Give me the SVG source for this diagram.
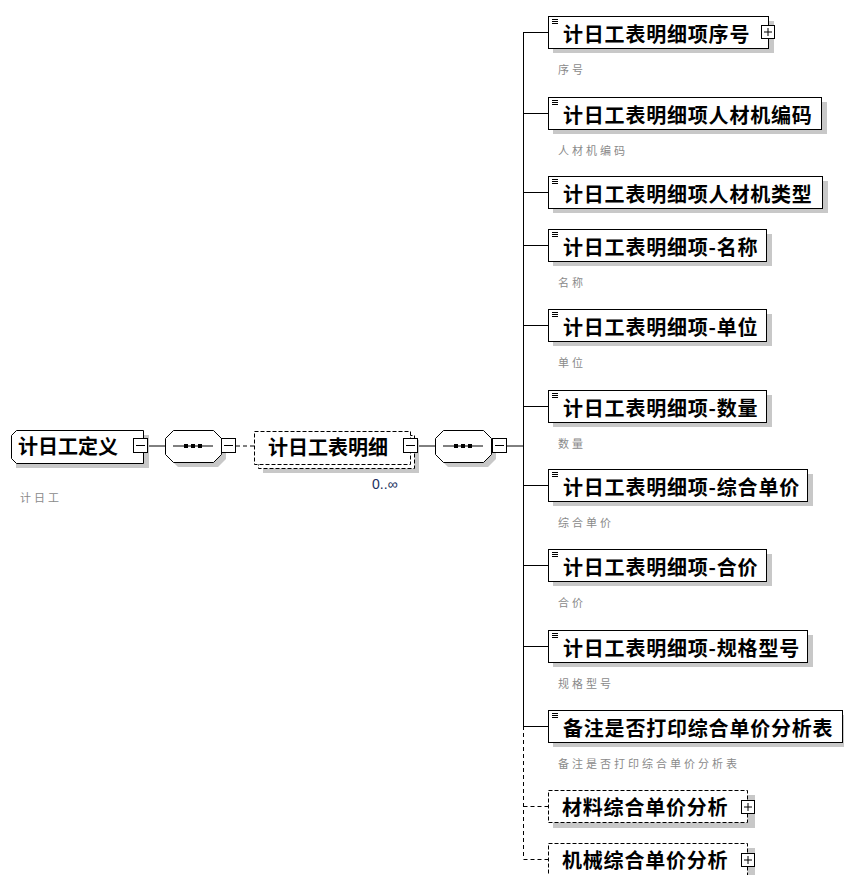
<svg xmlns="http://www.w3.org/2000/svg" width="845" height="875" viewBox="0 0 845 875">
<style>
  .bg{fill:#ffffff}
  .shadow{fill:#c8c8c8;stroke:none}
  .box{fill:#ffffff;stroke:#000000;stroke-width:1}
  .dbox{fill:#ffffff;stroke:#000000;stroke-width:1;stroke-dasharray:4 2}
  .line{fill:none;stroke:#000000;stroke-width:1}
  .dline{fill:none;stroke:#000000;stroke-width:1;stroke-dasharray:4 3}
  .name{font-family:"Noto Sans CJK SC","Noto Sans CJK JP",sans-serif;font-size:20px;font-weight:bold;fill:#000000}
  .cname{font-family:"Noto Sans CJK SC","Noto Sans CJK JP",sans-serif;font-size:20px;font-weight:bold;fill:#000000;letter-spacing:0.8px}
  .ann{font-family:"Noto Sans CJK SC","Noto Sans CJK JP",sans-serif;font-size:11px;fill:#8a8a8a;letter-spacing:3px}
  .occ{font-family:"Liberation Sans",sans-serif;font-size:14px;fill:#203060}
  .tog{fill:#ffffff;stroke:#000000;stroke-width:1}
  .icon{stroke:#000000;stroke-width:1}
  .dot{fill:#000000}
</style>
<defs>
  <g id="minus"><rect class="tog" x="0.5" y="0.5" width="14" height="14"/><line class="line" x1="3" y1="7.5" x2="12" y2="7.5"/></g>
  <g id="plus"><rect class="tog" x="0.5" y="0.5" width="13" height="13"/><line class="line" x1="3" y1="7" x2="11" y2="7"/><line class="line" x1="7" y1="3" x2="7" y2="11"/></g>
  <g id="elicon"><line class="icon" x1="0" y1="0.5" x2="6" y2="0.5"/><line class="icon" x1="0" y1="2.5" x2="6" y2="2.5"/><line class="icon" x1="0" y1="4.5" x2="6" y2="4.5"/></g>
</defs>
<rect class="bg" x="0" y="0" width="845" height="875"/>

<g id="connectors">
  <line class="line" x1="148" y1="446" x2="165" y2="446"/>
  <line class="dline" x1="236" y1="446" x2="254" y2="446"/>
  <line class="line" x1="418" y1="446" x2="435" y2="446"/>
  <line class="line" x1="507" y1="446" x2="523.5" y2="446"/>
  <line class="line" x1="523.5" y1="32" x2="523.5" y2="726"/>
  <line class="dline" x1="523.5" y1="726" x2="523.5" y2="859"/>
  <line class="line" x1="523.5" y1="32.5" x2="548" y2="32.5"/>
  <line class="line" x1="523.5" y1="113.5" x2="548" y2="113.5"/>
  <line class="line" x1="523.5" y1="192.5" x2="548" y2="192.5"/>
  <line class="line" x1="523.5" y1="245.5" x2="548" y2="245.5"/>
  <line class="line" x1="523.5" y1="325.5" x2="548" y2="325.5"/>
  <line class="line" x1="523.5" y1="406.5" x2="548" y2="406.5"/>
  <line class="line" x1="523.5" y1="485.5" x2="548" y2="485.5"/>
  <line class="line" x1="523.5" y1="565.5" x2="548" y2="565.5"/>
  <line class="line" x1="523.5" y1="646.5" x2="548" y2="646.5"/>
  <line class="line" x1="523.5" y1="726.5" x2="548" y2="726.5"/>
  <line class="dline" x1="523.5" y1="806.5" x2="548" y2="806.5"/>
  <line class="dline" x1="523.5" y1="859.5" x2="548" y2="859.5"/>
</g>

<g id="root">
  <rect class="shadow" x="16" y="435" width="133" height="33"/>
  <polygon class="box" points="16.5,430.5 143.5,430.5 143.5,463.5 16.5,463.5 11.5,458.5 11.5,435.5"/>
  <text class="name" x="18" y="454">计日工定义</text>
  <use href="#minus" x="133" y="438"/>
  <text class="ann" x="20" y="502">计日工</text>
</g>

<g id="seq1">
  <polygon class="shadow" points="178,435 218,435 226,443 226,459 218,467 178,467 170,459 170,443"/>
  <polygon class="box" points="173.5,430.5 213.5,430.5 221.5,438.5 221.5,454.5 213.5,462.5 173.5,462.5 165.5,454.5 165.5,438.5"/>
  <line class="line" x1="173" y1="446" x2="213" y2="446"/>
  <rect class="dot" x="184" y="444" width="4" height="4"/>
  <rect class="dot" x="191" y="444" width="4" height="4"/>
  <rect class="dot" x="198" y="444" width="4" height="4"/>
  <use href="#minus" x="221" y="438"/>
</g>

<g id="detail">
  <rect class="shadow" x="263" y="440" width="156" height="33"/>
  <rect class="dbox" x="258.5" y="435.5" width="156" height="33"/>
  <rect class="dbox" x="254.5" y="431.5" width="156" height="33"/>
  <text class="name" x="268" y="455">计日工表明细</text>
  <use href="#minus" x="403" y="438"/>
  <text class="occ" x="372" y="489">0..∞</text>
</g>

<g id="seq2">
  <polygon class="shadow" points="448,435 488,435 496,443 496,459 488,467 448,467 440,459 440,443"/>
  <polygon class="box" points="443.5,430.5 483.5,430.5 491.5,438.5 491.5,454.5 483.5,462.5 443.5,462.5 435.5,454.5 435.5,438.5"/>
  <line class="line" x1="443" y1="446" x2="483" y2="446"/>
  <rect class="dot" x="454" y="444" width="4" height="4"/>
  <rect class="dot" x="461" y="444" width="4" height="4"/>
  <rect class="dot" x="468" y="444" width="4" height="4"/>
  <use href="#minus" x="492" y="438"/>
</g>

<g id="c1">
  <rect class="shadow" x="553" y="21" width="221" height="32"/>
  <rect class="box" x="548.5" y="16.5" width="220" height="32"/>
  <use href="#elicon" x="552" y="19"/>
  <text class="cname" x="563" y="42">计日工表明细项序号</text>
  <use href="#plus" x="761" y="25"/>
  <text class="ann" x="558" y="74">序号</text>
</g>

<g id="c2">
  <rect class="shadow" x="553" y="102" width="274" height="32"/>
  <rect class="box" x="548.5" y="97.5" width="273" height="32"/>
  <use href="#elicon" x="552" y="100"/>
  <text class="cname" x="563" y="123">计日工表明细项人材机编码</text>
  <text class="ann" x="558" y="155">人材机编码</text>
</g>

<g id="c3">
  <rect class="shadow" x="553" y="181" width="275" height="32"/>
  <rect class="box" x="548.5" y="176.5" width="274" height="32"/>
  <use href="#elicon" x="552" y="179"/>
  <text class="cname" x="563" y="202">计日工表明细项人材机类型</text>
</g>

<g id="c4">
  <rect class="shadow" x="553" y="234" width="219" height="32"/>
  <rect class="box" x="548.5" y="229.5" width="218" height="32"/>
  <use href="#elicon" x="552" y="232"/>
  <text class="cname" x="563" y="255">计日工表明细项-名称</text>
  <text class="ann" x="558" y="287">名称</text>
</g>

<g id="c5">
  <rect class="shadow" x="553" y="314" width="219" height="32"/>
  <rect class="box" x="548.5" y="309.5" width="218" height="32"/>
  <use href="#elicon" x="552" y="312"/>
  <text class="cname" x="563" y="335">计日工表明细项-单位</text>
  <text class="ann" x="558" y="367">单位</text>
</g>

<g id="c6">
  <rect class="shadow" x="553" y="395" width="219" height="32"/>
  <rect class="box" x="548.5" y="390.5" width="218" height="32"/>
  <use href="#elicon" x="552" y="393"/>
  <text class="cname" x="563" y="416">计日工表明细项-数量</text>
  <text class="ann" x="558" y="448">数量</text>
</g>

<g id="c7">
  <rect class="shadow" x="553" y="474" width="260" height="32"/>
  <rect class="box" x="548.5" y="469.5" width="259" height="32"/>
  <use href="#elicon" x="552" y="472"/>
  <text class="cname" x="563" y="495">计日工表明细项-综合单价</text>
  <text class="ann" x="558" y="527">综合单价</text>
</g>

<g id="c8">
  <rect class="shadow" x="553" y="554" width="219" height="32"/>
  <rect class="box" x="548.5" y="549.5" width="218" height="32"/>
  <use href="#elicon" x="552" y="552"/>
  <text class="cname" x="563" y="575">计日工表明细项-合价</text>
  <text class="ann" x="558" y="607">合价</text>
</g>

<g id="c9">
  <rect class="shadow" x="553" y="635" width="260" height="32"/>
  <rect class="box" x="548.5" y="630.5" width="259" height="32"/>
  <use href="#elicon" x="552" y="633"/>
  <text class="cname" x="563" y="656">计日工表明细项-规格型号</text>
  <text class="ann" x="558" y="688">规格型号</text>
</g>

<g id="c10">
  <rect class="shadow" x="553" y="715" width="291" height="32"/>
  <rect class="box" x="548.5" y="710.5" width="294" height="32"/>
  <use href="#elicon" x="552" y="713"/>
  <text class="cname" x="563" y="736">备注是否打印综合单价分析表</text>
  <text class="ann" x="558" y="768">备注是否打印综合单价分析表</text>
</g>

<g id="c11">
  <rect class="shadow" x="553" y="795" width="202" height="33"/>
  <rect class="dbox" x="548.5" y="790.5" width="199" height="32"/>
  <text class="cname" x="562" y="815">材料综合单价分析</text>
  <use href="#plus" x="741" y="800"/>
</g>

<g id="c12">
  <rect class="shadow" x="553" y="848" width="202" height="33"/>
  <rect class="dbox" x="548.5" y="843.5" width="199" height="32"/>
  <text class="cname" x="562" y="868">机械综合单价分析</text>
  <use href="#plus" x="741" y="853"/>
</g>
</svg>
